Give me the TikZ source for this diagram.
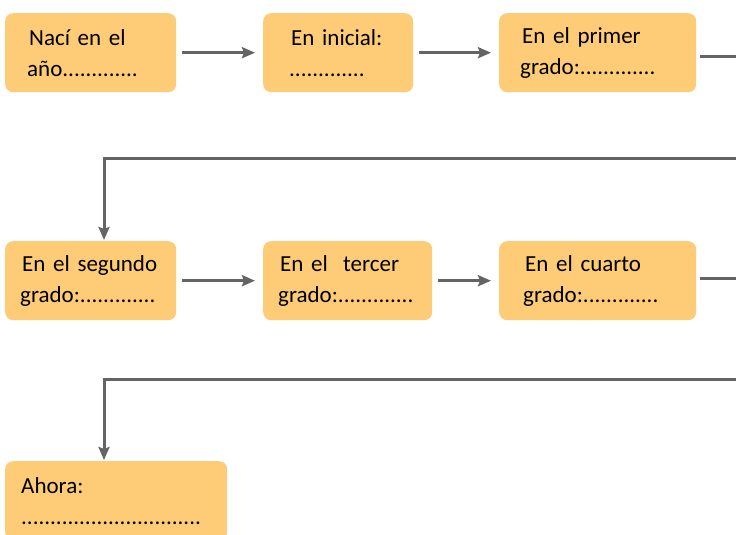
\documentclass[tikz,border=0pt]{standalone}
\usepackage{fontspec}
\setmainfont{Carlito}
\usetikzlibrary{arrows.meta}
\definecolor{naranja}{RGB}{254,203,118}
\definecolor{gris}{RGB}{100,100,100}

\begin{document}
\begin{tikzpicture}[x=1pt,y=-1pt,
  caja/.style={fill=naranja, rounded corners=8pt, anchor=north west, align=left,
    minimum height=79pt, inner ysep=0pt, font=\fontsize{23}{31}\selectfont},
  linea/.style={draw=gris, line width=3pt},
  flecha/.style={linea, shorten <=6pt, shorten >=8pt, -{Stealth[length=13pt,width=11pt,inset=2pt]}}]
\useasboundingbox (0,0) rectangle (736,535);

% 第一行的三个方框
\node[caja, text width=127pt, inner xsep=22pt] (caja1) at (5,13) {\hspace{2pt}Nací en el\\año.............};
\node[caja, text width=98pt, inner xsep=26pt] (caja2) at (263,13) {\hspace{2pt}En inicial:\\.............};
\node[caja, text width=155pt, inner xsep=21pt] (caja3) at (499,13) {\hspace{2pt}En el primer\\grado:.............};

% 第二行的三个方框
\node[caja, text width=141pt, inner xsep=15pt] (caja4) at (5,241) {\hspace{2pt}En el segundo\\grado:.............};
\node[caja, text width=139pt, inner xsep=15pt] (caja5) at (263,241) {\hspace{2pt}En el \ tercer\\grado:.............};
\node[caja, text width=149pt, inner xsep=24pt] (caja6) at (499,241) {\hspace{2pt}En el cuarto\\grado:.............};

% 最后一个方框
\node[caja, text width=190pt, inner xsep=16pt] (caja7) at (5,461) {Ahora:\\...............................};

% 同一行之间的箭头
\foreach \a/\b in {1/2, 2/3, 4/5, 5/6} {
    \draw[flecha] (caja\a) -- (caja\b);
}

% 向右出去再折回下一行
\coordinate (salida1) at (740,57);
\coordinate (vuelta1) at (740,158);
\coordinate (codo1) at (104,158);
\draw[linea, shorten <=4pt] (caja3.east |- salida1) -- (salida1);
\draw[flecha, shorten <=0pt, shorten >=1pt] (vuelta1) -- (codo1) -- (codo1 |- caja4.north);

\coordinate (salida2) at (740,278);
\coordinate (vuelta2) at (740,379);
\coordinate (codo2) at (104,379);
\draw[linea, shorten <=4pt] (caja6.east |- salida2) -- (salida2);
\draw[flecha, shorten <=0pt, shorten >=1pt] (vuelta2) -- (codo2) -- (codo2 |- caja7.north);

\end{tikzpicture}
\end{document}
